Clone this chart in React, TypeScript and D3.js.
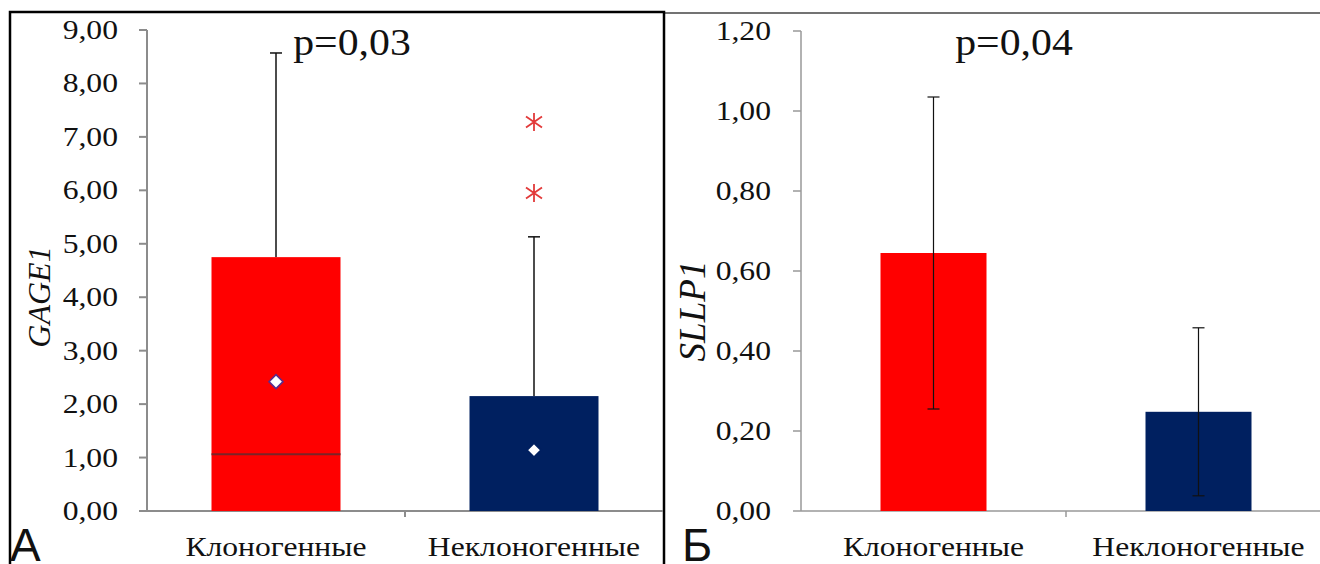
import React from "react";
import * as d3 from "d3";

// GAGE1 expression, box plot summary per group
const groups = ["Клоногенные", "Неклоногенные"];
const gageQ1 = [0, 0];
const gageQ3 = [4.75, 2.15];
const gageMedian = [1.06, 0];
const gageMean = [2.42, 1.14];
const gageWhiskerHigh = [8.57, 5.13];
const gageOutliers = [[], [5.95, 7.28]];
const gageTicks = [0, 1, 2, 3, 4, 5, 6, 7, 8, 9];

// SLLP1 expression, mean ± error per group
const sllpMean = [0.645, 0.248];
const sllpError = [0.39, 0.21];
const sllpTicks = [0, 0.2, 0.4, 0.6, 0.8, 1.0, 1.2];

const fillColors = ["#ff0000", "#002060"];
const diamondStroke = ["#5b2c8c", "#002060"];

const fmt = (v: number) => d3.format(".2f")(v).replace(".", ",");

const SERIF = '"Liberation Serif"';
const SANS = '"Liberation Sans"';

function StretchedText({ x, y, size, anchor, children }: any) {
  return (
    <text
      transform={`translate(${x},${y}) scale(1.13,1)`}
      style={{ fontFamily: SERIF, fontSize: size }}
      textAnchor={anchor}
      fill="#111"
    >
      {children}
    </text>
  );
}

function Asterisk({ x, y }: { x: number; y: number }) {
  const r = 9;
  const a = 8;
  const b = 5.5;
  const p = d3.path();
  p.moveTo(x, y - r);
  p.lineTo(x, y + r);
  p.moveTo(x - a, y - b);
  p.lineTo(x + a, y + b);
  p.moveTo(x - a, y + b);
  p.lineTo(x + a, y - b);
  return <path d={p.toString()} stroke="#e23a3a" strokeWidth={1.8} fill="none" />;
}

function Diamond({ x, y, stroke }: { x: number; y: number; stroke: string }) {
  const r = 7;
  return (
    <path
      d={`M${x},${y - r}L${x + r},${y}L${x},${y + r}L${x - r},${y}Z`}
      fill="#ffffff"
      stroke={stroke}
      strokeWidth={1.6}
    />
  );
}

function PanelA() {
  const y = d3.scaleLinear().domain([0, 9]).range([511, 30]);
  const x = d3.scaleBand().domain(groups).range([147, 663]).padding(0);
  const bw = x.bandwidth() * 0.5;
  const axisColor = "#8c8c8c";
  return (
    <g>
      {/* y axis */}
      <line x1={147} x2={147} y1={y(9)} y2={y(0)} stroke={axisColor} strokeWidth={2} />
      {gageTicks.map((t) => (
        <g key={t}>
          <line x1={139} x2={147} y1={y(t)} y2={y(t)} stroke={axisColor} strokeWidth={2} />
          <StretchedText x={118} y={y(t) + 9} size={28} anchor="end">
            {fmt(t)}
          </StretchedText>
        </g>
      ))}
      {/* x axis */}
      <line x1={147} x2={663} y1={y(0)} y2={y(0)} stroke={axisColor} strokeWidth={2} />
      <line x1={x(groups[1])!} x2={x(groups[1])!} y1={y(0)} y2={y(0) + 6} stroke={axisColor} strokeWidth={2} />

      {groups.map((g, i) => {
        const cx = x(g)! + x.bandwidth() / 2;
        return (
          <g key={g}>
            {/* whisker */}
            <line x1={cx} x2={cx} y1={y(gageWhiskerHigh[i])} y2={y(gageQ3[i])} stroke="#111" strokeWidth={1.5} />
            <line x1={cx - 6} x2={cx + 6} y1={y(gageWhiskerHigh[i])} y2={y(gageWhiskerHigh[i])} stroke="#111" strokeWidth={1.5} />
            {/* box */}
            <rect
              x={cx - bw / 2}
              y={y(gageQ3[i])}
              width={bw}
              height={y(gageQ1[i]) - y(gageQ3[i])}
              fill={fillColors[i]}
            />
            {gageMedian[i] > gageQ1[i] && (
              <line
                x1={cx - bw / 2}
                x2={cx + bw / 2}
                y1={y(gageMedian[i])}
                y2={y(gageMedian[i])}
                stroke="#7a2428"
                strokeWidth={2}
              />
            )}
            <Diamond x={cx} y={y(gageMean[i])} stroke={diamondStroke[i]} />
            {gageOutliers[i].map((o) => (
              <Asterisk key={o} x={cx} y={y(o)} />
            ))}
            <StretchedText x={cx} y={556} size={28} anchor="middle">
              {g}
            </StretchedText>
          </g>
        );
      })}

      <text
        transform={`translate(50,297) rotate(-90)`}
        style={{ fontFamily: SERIF, fontStyle: "italic", fontSize: 32 }}
        textAnchor="middle"
        fill="#111"
      >
        GAGE1
      </text>
      <StretchedText x={352} y={55} size={37} anchor="middle">
        p=0,03
      </StretchedText>
      <text x={10} y={561} style={{ fontFamily: SANS, fontSize: 46 }} fill="#111">
        А
      </text>
    </g>
  );
}

function PanelB() {
  const y = d3.scaleLinear().domain([0, 1.2]).range([511, 31]);
  const x = d3.scaleBand().domain(groups).range([801, 1331]).padding(0);
  const bw = x.bandwidth() * 0.4;
  const axisColor = "#999";
  return (
    <g>
      <line x1={801} x2={801} y1={y(1.2)} y2={y(0)} stroke={axisColor} strokeWidth={1.5} />
      {sllpTicks.map((t) => (
        <g key={t}>
          <line x1={793} x2={801} y1={y(t)} y2={y(t)} stroke={axisColor} strokeWidth={1.5} />
          <StretchedText x={771} y={y(t) + 9} size={28} anchor="end">
            {fmt(t)}
          </StretchedText>
        </g>
      ))}
      <line x1={801} x2={1320} y1={y(0)} y2={y(0)} stroke={axisColor} strokeWidth={1.5} />
      <line x1={x(groups[1])!} x2={x(groups[1])!} y1={y(0)} y2={y(0) + 6} stroke={axisColor} strokeWidth={1.5} />

      {groups.map((g, i) => {
        const cx = x(g)! + x.bandwidth() / 2;
        const hi = sllpMean[i] + sllpError[i];
        const lo = sllpMean[i] - sllpError[i];
        return (
          <g key={g}>
            <rect
              x={cx - bw / 2}
              y={y(sllpMean[i])}
              width={bw}
              height={y(0) - y(sllpMean[i])}
              fill={fillColors[i]}
            />
            <line x1={cx} x2={cx} y1={y(hi)} y2={y(lo)} stroke="#111" strokeWidth={1.2} />
            <line x1={cx - 6} x2={cx + 6} y1={y(hi)} y2={y(hi)} stroke="#111" strokeWidth={1.2} />
            <line x1={cx - 6} x2={cx + 6} y1={y(lo)} y2={y(lo)} stroke="#111" strokeWidth={1.2} />
            <StretchedText x={cx} y={556} size={28} anchor="middle">
              {g}
            </StretchedText>
          </g>
        );
      })}

      <text
        transform={`translate(705,311) rotate(-90)`}
        style={{ fontFamily: SERIF, fontStyle: "italic", fontSize: 37 }}
        textAnchor="middle"
        fill="#111"
      >
        SLLP1
      </text>
      <StretchedText x={1014} y={55} size={37} anchor="middle">
        p=0,04
      </StretchedText>
      <text x={682} y={561} style={{ fontFamily: SANS, fontSize: 46 }} fill="#111">
        Б
      </text>
    </g>
  );
}

export default function App() {
  return (
    <svg
      width={1320}
      height={564}
      style={{ position: "absolute", left: 0, top: 0, background: "#fff" }}
    >
      <rect x={0} y={0} width={1320} height={564} fill="#fff" />
      {/* frames */}
      <line x1={664} x2={1320} y1={13} y2={13} stroke="#444" strokeWidth={1.5} />
      <path d="M10,600 L10,12 L664,12 L664,600" fill="none" stroke="#000" strokeWidth={2.5} />
      <PanelA />
      <PanelB />
    </svg>
  );
}
